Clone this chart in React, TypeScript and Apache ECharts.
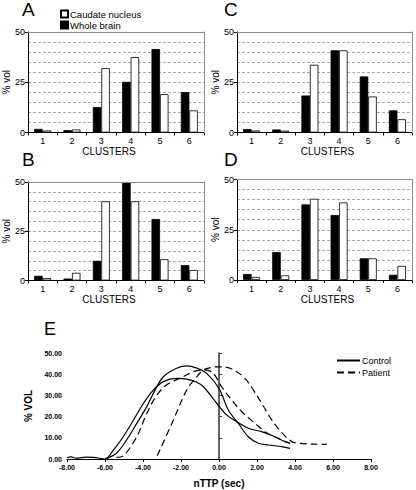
import React, { useEffect, useRef } from "react";
import * as echarts from "echarts";

const FONT = "Liberation Sans, Arial, sans-serif";

const clusters = ["1", "2", "3", "4", "5", "6"];
const panelLetters = ["A", "C", "B", "D"];
const wholeA = [1.8, 1.2, 12.6, 25.2, 41.5, 20.1];
const caudA = [1.0, 1.5, 32.0, 37.5, 19.1, 11.0];
const wholeC = [1.7, 1.5, 18.4, 40.9, 27.9, 11.0];
const caudC = [1.0, 0.9, 33.7, 40.9, 17.9, 6.6];
const wholeB = [2.4, 1.0, 10.0, 50.0, 31.2, 7.8];
const caudB = [1.2, 3.9, 40.2, 40.2, 10.8, 5.3];
const wholeD = [3.0, 13.9, 37.6, 32.3, 10.8, 2.6];
const caudD = [1.5, 2.3, 40.4, 38.6, 10.8, 7.0];

const control1X = [-8, -7.8, -7.5, -7.0, -6.6, -6.2, -6.0, -5.56, -5.04, -4.5, -3.98, -3.46, -2.93, -2.23, -1.7, -1.2, -0.82, -0.12, 0.4, 0.93, 1.54, 2.24, 2.95, 3.47, 3.74];
const control1Y = [0.6, 1.0, 0.4, 0.9, 0.8, 0.2, 0, 4.2, 10.5, 18.4, 26.2, 32.5, 36.5, 38.0, 37.7, 36.3, 34.1, 26.3, 20.8, 17.6, 14.5, 12.9, 10.5, 8.2, 7.5];
const control2X = [-6.0, -5.4, -4.86, -4.33, -3.8, -3.37, -2.93, -2.23, -1.7, -1.2, -0.65, 0, 0.49, 1.02, 1.54, 2.07, 2.6, 3.3, 3.74];
const control2Y = [0, 2.7, 9.0, 16.8, 24.7, 32.5, 38.8, 42.8, 43.9, 43.0, 40.4, 33.3, 23.1, 16.8, 10.5, 7.4, 6.6, 5.8, 5.0];
const patient1X = [-5.4, -5.04, -4.33, -3.8, -3.28, -2.75, -1.88, -1.35, -0.74, -0.3, 0.14, 0.67, 1.2, 1.9, 2.42, 3.12, 3.74];
const patient1Y = [0.8, 1.5, 10.5, 21.5, 30.0, 35.0, 38.8, 41.2, 42.0, 40.4, 34.0, 27.8, 22.3, 16.8, 12.9, 9.7, 7.4];
const patient2X = [-3.25, -2.4, -1.7, -1.17, -0.82, -0.4, 0, 0.58, 1.28, 1.81, 2.33, 2.77, 3.3, 3.83, 4.26, 5.0, 5.67];
const patient2Y = [1.5, 18.4, 32.5, 38.8, 42.0, 43.2, 43.5, 42.8, 38.8, 32.5, 25.0, 18.5, 12.5, 8.2, 7.4, 7.0, 6.9];

export default function App() {
  const ref = useRef<HTMLDivElement>(null);
  useEffect(() => {
    document.body.style.margin = "0";
    if (!ref.current) return;
    const chart = echarts.init(ref.current, null, { renderer: "svg" });
    const barData = [
      [wholeA, caudA],
      [wholeC, caudC],
      [wholeB, caudB],
      [wholeD, caudD],
    ];
    const barGrids = [
      { left: 26, top: 32, width: 178, height: 100.5 },
      { left: 237, top: 32, width: 175, height: 100.5 },
      { left: 26, top: 182, width: 178, height: 98.5 },
      { left: 237, top: 179.5, width: 175, height: 100.5 },
    ];
    const namePad = [[0, 14, 0, 0], [0, 0, 0, 6], [0, 14, 0, 0], [0, 0, 0, 6]];
    const titlePos = [
      { left: 22, top: 0 },
      { left: 224, top: 0 },
      { left: 22, top: 150 },
      { left: 224, top: 150 },
    ];
    const grid: any[] = barGrids.map((g) => ({ ...g }));
    grid.push({ left: 67, top: 353, width: 304, height: 106 });

    const xAxis: any[] = barGrids.map((_, i) => ({
      type: "category",
      gridIndex: i,
      data: clusters,
      axisLine: { onZero: false, lineStyle: { color: "#000", width: 1 } },
      axisTick: { show: true, length: 3, lineStyle: { color: "#000" } },
      axisLabel: { fontSize: 9, color: "#000", margin: 4, fontFamily: FONT },
      name: "CLUSTERS",
      nameLocation: "middle",
      nameGap: 14,
      nameTextStyle: { fontSize: 10, color: "#000", fontFamily: FONT, padding: namePad[i] },
    }));
    xAxis.push({
      type: "value",
      gridIndex: 4,
      min: -8,
      max: 8,
      interval: 2,
      axisLine: { onZero: false, lineStyle: { color: "#000", width: 1 } },
      axisTick: { show: true, length: 3, lineStyle: { color: "#000" } },
      axisLabel: {
        fontSize: 7,
        fontWeight: "bold",
        color: "#000",
        margin: 5,
        fontFamily: FONT,
        formatter: (v: number) => v.toFixed(2),
      },
      splitLine: { show: false },
      name: "nTTP (sec)",
      nameLocation: "middle",
      nameGap: 19,
      nameTextStyle: { fontSize: 10, fontWeight: "bold", color: "#000", fontFamily: FONT },
    });
    // top border axes for bar panels
    barGrids.forEach((_, i) => {
      xAxis.push({
        type: "category",
        gridIndex: i,
        position: "top",
        data: clusters,
        axisLine: { show: true, onZero: false, lineStyle: { color: "#8c8c8c", width: 1 } },
        axisTick: { show: false },
        axisLabel: { show: false },
        splitLine: { show: false },
        z: 5,
      });
    });

    const yAxis: any[] = barGrids.map((_, i) => ({
      type: "value",
      gridIndex: i,
      min: 0,
      max: 50,
      interval: 25,
      axisLine: { show: true, onZero: false, lineStyle: { color: "#000", width: 1 } },
      axisTick: { show: true, length: 3, lineStyle: { color: "#000" } },
      axisLabel: { fontSize: 9, color: "#000", margin: 3, fontFamily: FONT },
      splitLine: { show: true, lineStyle: { color: "#aaa", type: [3, 2], width: 1 } },
      minorTick: { show: false, splitNumber: 5 },
      minorSplitLine: { show: true, lineStyle: { color: "#aaa", type: [3, 2], width: 1 } },
      name: "% vol",
      nameLocation: "middle",
      nameGap: 17,
      nameTextStyle: { fontSize: 10, color: "#000", fontFamily: FONT },
    }));
    yAxis.push({
      type: "value",
      gridIndex: 4,
      min: 0,
      max: 50,
      interval: 10,
      axisLine: { show: false, onZero: false },
      axisTick: { show: false },
      axisLabel: {
        fontSize: 7,
        fontWeight: "bold",
        color: "#000",
        margin: 5,
        fontFamily: FONT,
        formatter: (v: number) => v.toFixed(2),
      },
      splitLine: { show: false },
      name: "% VOL",
      nameLocation: "middle",
      nameGap: 28,
      nameTextStyle: { fontSize: 10, fontWeight: "bold", color: "#000", fontFamily: FONT },
    });
    yAxis.push({
      type: "value",
      gridIndex: 4,
      min: 0,
      max: 50,
      interval: 10,
      axisLine: { show: true, onZero: true, lineStyle: { color: "#333", width: 1.5 } },
      axisTick: { show: true, length: 3, lineStyle: { color: "#333" } },
      axisLabel: { show: false },
      splitLine: { show: false },
    });
    // right border axes for bar panels
    barGrids.forEach((_, i) => {
      yAxis.push({
        type: "value",
        gridIndex: i,
        position: "right",
        min: 0,
        max: 50,
        interval: 25,
        axisLine: { show: true, onZero: false, lineStyle: { color: "#8c8c8c", width: 1 } },
        axisTick: { show: false },
        axisLabel: { show: false },
        splitLine: { show: false },
        z: 5,
      });
    });

    const series: any[] = [];
    barData.forEach(([whole, caud], i) => {
      series.push({
        type: "bar",
        name: "Whole brain",
        xAxisIndex: i,
        yAxisIndex: i,
        data: whole,
        barWidth: 8.5,
        barGap: "0%",
        z: 3,
        itemStyle: { color: "#000", borderColor: "#000", borderWidth: 0.8 },
      });
      series.push({
        type: "bar",
        name: "Caudate nucleus",
        xAxisIndex: i,
        yAxisIndex: i,
        data: caud,
        barWidth: 8.5,
        barGap: "0%",
        z: 3,
        itemStyle: { color: "#fff", borderColor: "#000", borderWidth: 0.8 },
      });
    });
    const lines = [
      { name: "Control", xs: control1X, ys: control1Y, dash: "solid" },
      { name: "Control", xs: control2X, ys: control2Y, dash: "solid" },
      { name: "Patient", xs: patient1X, ys: patient1Y, dash: [7, 4] },
      { name: "Patient", xs: patient2X, ys: patient2Y, dash: [7, 4] },
    ];
    lines.forEach((l) => {
      series.push({
        type: "line",
        name: l.name,
        xAxisIndex: 4,
        yAxisIndex: 4,
        data: l.xs.map((x, i) => [x, l.ys[i]]),
        smooth: 0.35,
        symbol: "none",
        lineStyle: { color: "#000", width: 1.2, type: l.dash },
        itemStyle: { color: "#000" },
      });
    });

    const title: any[] = panelLetters.map((t, i) => ({
      text: t,
      ...titlePos[i],
      padding: 0,
      textStyle: { fontSize: 19, fontWeight: "normal", color: "#000", fontFamily: FONT },
    }));
    title.push({
      text: "E",
      left: 44,
      top: 320,
      padding: 0,
      textStyle: { fontSize: 18, fontWeight: "normal", color: "#000", fontFamily: FONT },
    });

    chart.setOption({
      animation: false,
      title,
      grid,
      xAxis,
      yAxis,
      series,
      legend: [
        {
          data: ["Caudate nucleus", "Whole brain"],
          orient: "vertical",
          left: 60,
          top: 9,
          padding: 0,
          itemWidth: 7,
          itemHeight: 7,
          itemGap: 1,
          icon: "rect",
          selectedMode: false,
          textStyle: { fontSize: 9.5, color: "#000", fontFamily: FONT, padding: [0, 0, 0, -3] },
        },
        {
          data: ["Control", "Patient"],
          orient: "vertical",
          left: 336,
          top: 356,
          padding: 0,
          itemWidth: 23,
          itemHeight: 8,
          itemGap: 3,
          selectedMode: false,
          itemStyle: { color: "transparent", borderColor: "transparent", borderWidth: 0 },
          textStyle: { fontSize: 9, color: "#000", fontFamily: FONT, padding: [0, 0, 0, -3] },
        },
      ],
    });
    return () => chart.dispose();
  }, []);
  return <div ref={ref} style={{ width: 416, height: 490 }} />;
}
